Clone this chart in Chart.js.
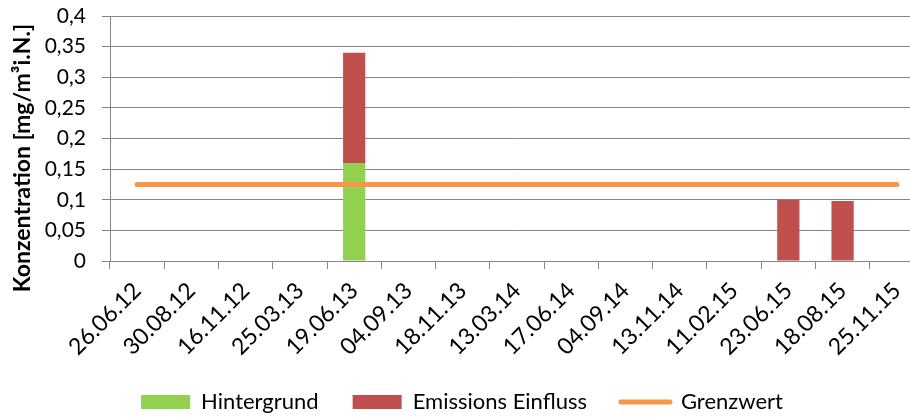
<!DOCTYPE html>
<html>
<head>
<meta charset="utf-8">
<script src="https://cdn.jsdelivr.net/npm/chart.js@4/dist/chart.umd.min.js"></script>
<style>
    html, body { margin: 0; padding: 0; background: #fff; overflow: hidden; }
    #wrap { width: 910px; height: 419px; overflow: hidden; }
</style>
</head>
<body>
<div id="wrap"><canvas id="chart" width="932" height="419"></canvas></div>
<script>
// Messdaten
const dates = ['26.06.12', '30.08.12', '16.11.12', '25.03.13', '19.06.13', '04.09.13', '18.11.13', '13.03.14',
    '17.06.14', '04.09.14', '13.11.14', '11.02.15', '23.06.15', '18.08.15', '25.11.15'];
const hintergrund = [null, null, null, null, 0.16, null, null, null, null, null, null, null, null, null, null];
const emissionen = [null, null, null, null, 0.18, null, null, null, null, null, null, null, 0.1, 0.098, null];
const grenzwert = [0.125, 0.125, 0.125, 0.125, 0.125, 0.125, 0.125, 0.125, 0.125, 0.125, 0.125, 0.125, 0.125, 0.125, 0.125];
const seriesNames = ['Hintergrund', 'Emissions Einfluss', 'Grenzwert'];
const yTitle = 'Konzentration [mg/m³i.N.]';

const GRID = '#868686';
const FONT = 'Lato';

// Achsentitel links, wie im Original etwas unterhalb der Mitte
const yTitlePlugin = {
    id: 'yTitle',
    afterDraw(chart) {
        const ctx = chart.ctx;
        ctx.save();
        ctx.translate(23, 158);
        ctx.rotate(-Math.PI / 2);
        ctx.font = 'bold 23px ' + FONT;
        ctx.fillStyle = '#000';
        ctx.textAlign = 'center';
        ctx.textBaseline = 'middle';
        ctx.fillText(yTitle, 0, 0);
        ctx.restore();
    }
};

const ctx = document.getElementById('chart').getContext('2d');
new Chart(ctx, {
    type: 'bar',
    data: {
        labels: dates,
        datasets: [
            { label: seriesNames[0], data: hintergrund, backgroundColor: '#92D050', stack: 'mess', order: 1,
              categoryPercentage: 1, barPercentage: 0.41 },
            { label: seriesNames[1], data: emissionen, backgroundColor: '#C0504D', stack: 'mess', order: 1,
              categoryPercentage: 1, barPercentage: 0.41 },
            { type: 'line', label: seriesNames[2], data: grenzwert, borderColor: '#F79646', backgroundColor: '#F79646',
              borderWidth: 5, borderCapStyle: 'round', pointRadius: 0, stack: 'grenze', order: 0, fill: false }
        ]
    },
    options: {
        responsive: false,
        animation: false,
        devicePixelRatio: 1,
        // Unterkante leicht negativ, damit die breiten Legendenabstaende nicht nach oben druecken
        layout: { padding: { left: 0, right: 8, top: 16, bottom: -4 } },
        plugins: {
            tooltip: { enabled: false },
            legend: {
                position: 'bottom',
                labels: {
                    usePointStyle: true,
                    pointStyleWidth: 49,
                    boxHeight: 14,
                    padding: 34,
                    color: '#000',
                    font: { family: FONT, size: 22 },
                    generateLabels(chart) {
                        return chart.data.datasets.map((ds, i) => ({
                            text: ds.label,
                            fillStyle: ds.type === 'line' ? ds.borderColor : ds.backgroundColor,
                            strokeStyle: ds.type === 'line' ? ds.borderColor : ds.backgroundColor,
                            lineWidth: ds.type === 'line' ? 5 : 0,
                            lineCap: 'round',
                            pointStyle: ds.type === 'line' ? 'line' : 'rect',
                            fontColor: '#000',
                            datasetIndex: i,
                            hidden: false
                        }));
                    }
                }
            }
        },
        scales: {
            x: {
                stacked: true,
                offset: true,
                grid: { display: true, drawOnChartArea: false, drawTicks: true, tickLength: 8, color: GRID, offset: true },
                border: { display: true, color: GRID, width: 1 },
                ticks: { autoSkip: false, maxRotation: 45, minRotation: 45, padding: 8, color: '#000',
                         font: { family: FONT, size: 23 } },
                afterFit(scale) { scale.height = 96; }
            },
            y: {
                stacked: true,
                min: 0,
                max: 0.4,
                ticks: {
                    stepSize: 0.05,
                    padding: 16,
                    color: '#000',
                    font: { family: FONT, size: 21 },
                    callback: (v) => String(Number(v.toFixed(2))).replace('.', ',')
                },
                grid: { color: GRID, lineWidth: 1, tickLength: 8 },
                border: { display: true, color: GRID, width: 1 },
                afterFit(scale) {
                    scale.width = 110;
                    scale.paddingTop = 12;
                    scale.paddingBottom = 12;
                }
            }
        }
    },
    plugins: [yTitlePlugin]
});
</script>
</body>
</html>
